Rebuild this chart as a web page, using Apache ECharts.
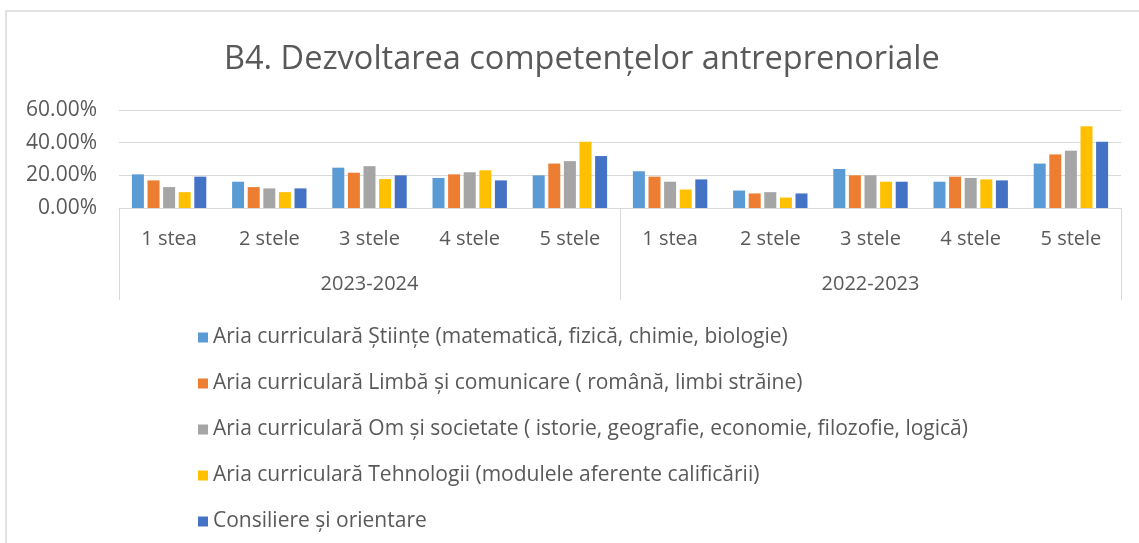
<!DOCTYPE html>
<html>
<head>
<meta charset="utf-8">
<script src="https://cdn.jsdelivr.net/npm/echarts@6/dist/echarts.min.js"></script>
<style>
	html, body { margin: 0; padding: 0; background: #fff; }
	#chart { width: 1139px; height: 543px; }
</style>
</head>
<body>
<div id="chart"></div>
<script>
	var stars = ['1 stea', '2 stele', '3 stele', '4 stele', '5 stele', '1 stea', '2 stele', '3 stele', '4 stele', '5 stele']
	var years = ['2023-2024', '2022-2023']
	var yTicks = [0, 20, 40, 60]

	var seriesNames = [
		'Aria curriculară Științe (matematică, fizică, chimie, biologie)',
		'Aria curriculară Limbă și comunicare ( română, limbi străine)',
		'Aria curriculară Om și societate ( istorie, geografie, economie, filozofie, logică)',
		'Aria curriculară Tehnologii (modulele aferente calificării)',
		'Consiliere și orientare'
	]
	var stiinte = [20.6, 16.1, 24.7, 18.4, 20.0, 22.5, 10.7, 23.9, 16.1, 27.2]
	var limba = [16.9, 12.8, 21.6, 20.6, 27.2, 19.2, 8.9, 20.0, 19.2, 32.8]
	var omSocietate = [12.8, 12.0, 25.6, 21.9, 28.7, 16.1, 9.7, 20.0, 18.4, 35.1]
	var tehnologii = [9.7, 9.7, 17.7, 23.1, 40.6, 11.3, 6.4, 16.1, 17.5, 50.1]
	var consiliere = [19.2, 12.0, 20.0, 16.9, 31.8, 17.5, 8.9, 16.1, 16.9, 40.6]

	var colors = ['#5B9BD5', '#ED7D31', '#A5A5A5', '#FFC000', '#4472C4']
	var values = [stiinte, limba, omSocietate, tehnologii, consiliere]

	var font = '"Open Sans", Lato, sans-serif'
	var textColor = '#595959'
	var lineColor = '#d9d9d9'

	var series = []
	for (var i = 0; i < values.length; i++) {
		series.push({
			name: seriesNames[i],
			type: 'bar',
			xAxisIndex: 0,
			barWidth: 12,
			barGap: '30%',
			itemStyle: { color: colors[i] },
			data: values[i]
		})
	}

	var chart = echarts.init(document.getElementById('chart'))
	chart.setOption({
		animation: false,
		color: colors,
		title: {
			text: 'B4. Dezvoltarea competențelor antreprenoriale',
			left: 219,
			top: 38,
			textStyle: { fontFamily: font, fontSize: 32.5, fontWeight: 'normal', color: textColor }
		},
		graphic: [{
			type: 'rect',
			shape: { x: 6, y: 11, width: 1160, height: 560 },
			style: { fill: 'none', stroke: lineColor, lineWidth: 1.5 },
			silent: true
		}],
		legend: {
			orient: 'vertical',
			left: 193,
			top: 322,
			icon: 'rect',
			itemWidth: 10,
			itemHeight: 10,
			itemGap: 25,
			data: seriesNames,
			textStyle: { fontFamily: font, fontSize: 21, color: textColor, lineHeight: 20 }
		},
		grid: { left: 119, right: 18, top: 110, bottom: 335 },
		xAxis: [{
			type: 'category',
			data: stars,
			axisLine: { show: true, lineStyle: { color: lineColor } },
			axisTick: { show: false },
			axisLabel: { fontFamily: font, fontSize: 20, color: textColor, margin: 21 }
		}, {
			type: 'category',
			data: years,
			position: 'bottom',
			axisLine: { show: false },
			axisTick: { show: true, length: 92, lineStyle: { color: lineColor } },
			axisLabel: { fontFamily: font, fontSize: 20, color: textColor, margin: 66 }
		}],
		yAxis: {
			type: 'value',
			min: yTicks[0],
			max: yTicks[yTicks.length - 1],
			interval: 20,
			axisLine: { show: false },
			axisTick: { show: false },
			splitLine: { lineStyle: { color: lineColor } },
			axisLabel: {
				fontFamily: font, fontSize: 21, color: textColor, margin: 22,
				formatter: function (v) { return v.toFixed(2) + '%' }
			}
		},
		series: series
	})
</script>
</body>
</html>
